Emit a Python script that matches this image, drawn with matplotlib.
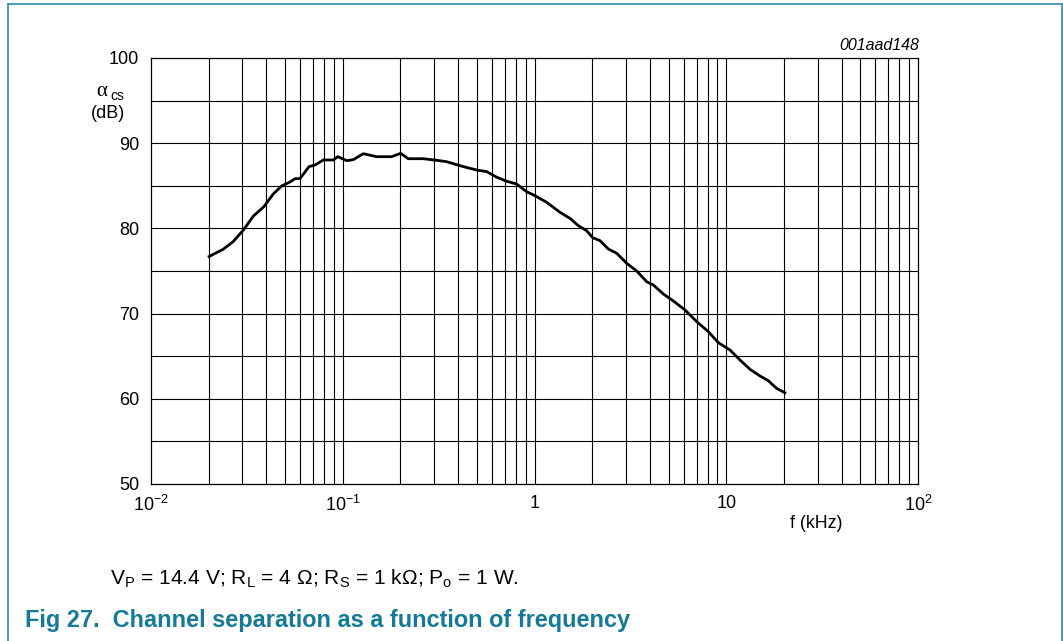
import matplotlib
matplotlib.use("Agg")
import matplotlib.pyplot as plt
from matplotlib.ticker import FixedLocator, NullLocator, NullFormatter

plt.rcParams['font.family'] = ['Liberation Sans', 'DejaVu Sans']
plt.rcParams['mathtext.fontset'] = 'custom'
plt.rcParams['mathtext.rm'] = 'Liberation Sans'
plt.rcParams['mathtext.it'] = 'Liberation Sans:italic'
plt.rcParams['mathtext.bf'] = 'Liberation Sans:bold'
plt.rcParams['mathtext.default'] = 'regular'

# ---- data ----
freq_khz = [0.0201, 0.0213, 0.0238, 0.0268, 0.0303, 0.0342, 0.0388, 0.0434, 0.0480,
            0.0531, 0.0564, 0.0598, 0.0667, 0.0717, 0.0792, 0.0894, 0.0942, 0.105,
            0.1136, 0.128, 0.150, 0.180, 0.2005, 0.2196, 0.263, 0.309, 0.348, 0.4255,
            0.500, 0.5636, 0.6357, 0.7165, 0.807, 0.910, 1.006, 1.158, 1.358, 1.531,
            1.693, 1.871, 2.012, 2.196, 2.427, 2.684, 3.027, 3.413, 3.848, 4.165,
            4.70, 5.30, 6.10, 7.02, 8.07, 9.09, 10.46, 11.8, 13.3, 15.0, 16.56,
            18.3, 20.2]
alpha_cs_db = [76.7, 77.0, 77.55, 78.44, 79.8, 81.45, 82.55, 84.04, 84.98,
               85.45, 85.84, 85.84, 87.25, 87.44, 88.03, 88.03, 88.42, 87.95,
               88.07, 88.77, 88.42, 88.42, 88.81, 88.18, 88.18, 87.99, 87.83, 87.25,
               86.85, 86.66, 86.0, 85.53, 85.21, 84.31, 83.84, 83.06, 81.89, 81.18,
               80.32, 79.73, 78.91, 78.56, 77.58, 77.08, 75.90, 75.0, 73.74, 73.36,
               72.30, 71.48, 70.42, 69.05, 67.88, 66.59, 65.73, 64.55, 63.46, 62.68,
               62.13, 61.23, 60.72]

x_tick_values = [0.01, 0.1, 1, 10, 100]
x_tick_labels = ['$10^{\u22122}$', '$10^{\u22121}$', '1', '10', '$10^{2}$']
y_tick_values = [50, 60, 70, 80, 90, 100]
y_grid_values = [50, 55, 60, 65, 70, 75, 80, 85, 90, 95, 100]

W, H = 1063, 641
fig = plt.figure(figsize=(W / 100, H / 100), dpi=100)

ax_l, ax_r, ax_t, ax_b = 151, 918, 58, 484
ax = fig.add_axes([ax_l / W, (H - ax_b) / H, (ax_r - ax_l) / W, (ax_b - ax_t) / H])
ax.set_xscale('log')
ax.set_xlim(0.01, 100)
ax.set_ylim(50, 100)

# grid
minor_x = [m * 10.0 ** e for e in range(-2, 2) for m in range(2, 10)]
for xv in minor_x + x_tick_values[1:-1]:
    ax.axvline(xv, color='black', lw=0.8, zorder=1)
for yv in y_grid_values[1:-1]:
    ax.axhline(yv, color='black', lw=0.8, zorder=1)

ax.plot(freq_khz, alpha_cs_db, color='black', lw=2.0, zorder=3, solid_joinstyle='round')

ax.xaxis.set_major_locator(FixedLocator(x_tick_values))
ax.xaxis.set_minor_locator(NullLocator())
ax.xaxis.set_minor_formatter(NullFormatter())
ax.set_xticklabels(x_tick_labels)
ax.set_yticks(y_tick_values)
ax.set_yticklabels([str(v) for v in y_tick_values])
ax.tick_params(axis='both', length=0, labelsize=13, colors='black')
ax.tick_params(axis='x', pad=8)
ax.tick_params(axis='y', pad=8.5)
for s in ax.spines.values():
    s.set_linewidth(0.9)
    s.set_color('black')

# labels
fig.text(102 / W, 1 - 91 / H, 'α', ha='center', va='center', fontsize=15,
         family=['Liberation Serif', 'DejaVu Serif'])
fig.text(110 / W, 1 - 96 / H, 'cs', ha='left', va='center', fontsize=10)
fig.text(108 / W, 1 - 113 / H, '(dB)', ha='center', va='center', fontsize=13)
fig.text(816 / W, 1 - 523 / H, 'f (kHz)', ha='center', va='center', fontsize=12.8)
fig.text(ax_r / W + 1 / W, 1 - 45 / H, '001aad148', ha='right', va='center', fontsize=11.5, style='italic')

fig.text(110 / W, 1 - 579 / H,
         r'V$_{\rm P}$ = 14.4 V; R$_{\rm L}$ = 4 Ω; R$_{\rm S}$ = 1 kΩ; P$_{\rm o}$ = 1 W.',
         ha='left', va='center', fontsize=15.1)
fig.text(25 / W, 1 - 620 / H, 'Fig 27.  Channel separation as a function of frequency',
         ha='left', va='center', fontsize=16.9, fontweight='bold', color='#157a97')

# frame
frame_col = '#3f93b0'
fig.add_artist(plt.Line2D([8 / W, 8 / W], [0, 1 - 4 / H], transform=fig.transFigure, color=frame_col, lw=1.3))
fig.add_artist(plt.Line2D([8 / W, 1061.5 / W], [1 - 4 / H, 1 - 4 / H], transform=fig.transFigure, color=frame_col, lw=1.3))
fig.add_artist(plt.Line2D([1061.5 / W, 1061.5 / W], [0, 1 - 4 / H], transform=fig.transFigure, color=frame_col, lw=1.3))

fig.savefig('out.png', dpi=100)
